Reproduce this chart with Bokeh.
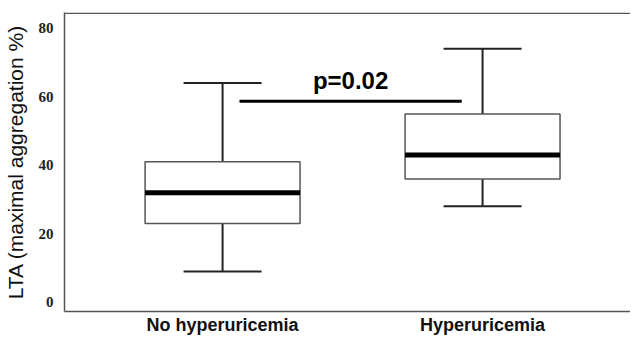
from bokeh.plotting import figure
from bokeh.models import Range1d, FixedTicker, ColumnDataSource, Span
from bokeh.core.properties import value
from bokeh.embed import file_html
from bokeh.resources import INLINE

categories = ["No hyperuricemia", "Hyperuricemia"]
positions = [1, 2]
lower_whisker = [9, 28]
q1 = [23, 36]
median = [32, 43]
q3 = [41, 55]
upper_whisker = [64, 74]
y_ticks = [0, 20, 40, 60, 80]
sig_label = "p=0.02"
sig_y = 58.7
sig_x = [1.065, 1.92]

box_half = 0.298
cap_half = 0.15
y_lo, y_hi = -2.7, 84.6

p = figure(width=630, height=337, output_backend="svg", toolbar_location=None,
           x_range=Range1d(0.392, 2.569), y_range=Range1d(y_lo, y_hi),
           min_border_left=64, min_border_top=12, min_border_bottom=20, min_border_right=0)
p.xgrid.visible = False
p.ygrid.visible = False
p.outline_line_color = None
p.background_fill_color = "white"
p.border_fill_color = "white"

src = ColumnDataSource(dict(
    x=positions,
    left=[x - box_half for x in positions],
    right=[x + box_half for x in positions],
    cl=[x - cap_half for x in positions],
    cr=[x + cap_half for x in positions],
    lo=lower_whisker, q1=q1, med=median, q3=q3, hi=upper_whisker,
))

# whiskers
p.segment(x0="x", x1="x", y0="q3", y1="hi", source=src, line_color="#222222", line_width=2)
p.segment(x0="x", x1="x", y0="q1", y1="lo", source=src, line_color="#222222", line_width=2)
p.segment(x0="cl", x1="cr", y0="hi", y1="hi", source=src, line_color="#222222", line_width=2)
p.segment(x0="cl", x1="cr", y0="lo", y1="lo", source=src, line_color="#222222", line_width=2)
# boxes
p.quad(left="left", right="right", bottom="q1", top="q3", source=src,
       fill_color="white", line_color="#555555", line_width=1.5)
# medians
p.segment(x0="left", x1="right", y0="med", y1="med", source=src, line_color="black", line_width=5)

# significance
p.line(x=sig_x, y=[sig_y, sig_y], line_color="black", line_width=3)
p.text(x=[(sig_x[0] + sig_x[1]) / 2], y=[sig_y + 6.0], text=[sig_label],
       text_font=value("Liberation Sans"), text_font_style="bold", text_font_size="24px",
       text_align="center", text_baseline="middle", text_color="black")

# top frame line
p.add_layout(Span(location=y_hi - 0.25, dimension="width", line_color="#555555", line_width=1.5))

# axes
p.xaxis.ticker = FixedTicker(ticks=positions)
p.xaxis.major_label_overrides = {pos: c for pos, c in zip(positions, categories)}
p.xaxis.major_label_text_font = "Liberation Sans"
p.xaxis.major_label_text_font_size = "18px"
p.xaxis.major_label_text_font_style = "bold"
p.xaxis.major_label_text_color = "#111111"
p.xaxis.major_label_standoff = 3
p.xaxis.axis_line_color = "#555555"
p.xaxis.axis_line_width = 1.5
p.xaxis.major_tick_line_color = None
p.xaxis.minor_tick_line_color = None

p.yaxis.ticker = FixedTicker(ticks=y_ticks)
p.yaxis.axis_label = "LTA (maximal aggregation %)"
p.yaxis.axis_label_text_font = "Liberation Sans"
p.yaxis.axis_label_text_font_size = "21px"
p.yaxis.axis_label_text_font_style = "normal"
p.yaxis.axis_label_text_color = "#111111"
p.yaxis.axis_label_standoff = 9
p.yaxis.major_label_text_font = "Liberation Sans Narrow"
p.yaxis.major_label_text_font_style = "bold"
p.yaxis.major_label_text_font_size = "15px"
p.yaxis.major_label_text_color = "#222222"
p.yaxis.major_label_standoff = 11
p.yaxis.axis_line_color = "#555555"
p.yaxis.axis_line_width = 1.5
p.yaxis.major_tick_line_color = None
p.yaxis.minor_tick_line_color = None
p.yaxis.major_tick_out = 0
p.yaxis.major_tick_in = 0
p.xaxis.major_tick_out = 0
p.xaxis.major_tick_in = 0

open("out.html", "w").write(file_html(p, INLINE))
